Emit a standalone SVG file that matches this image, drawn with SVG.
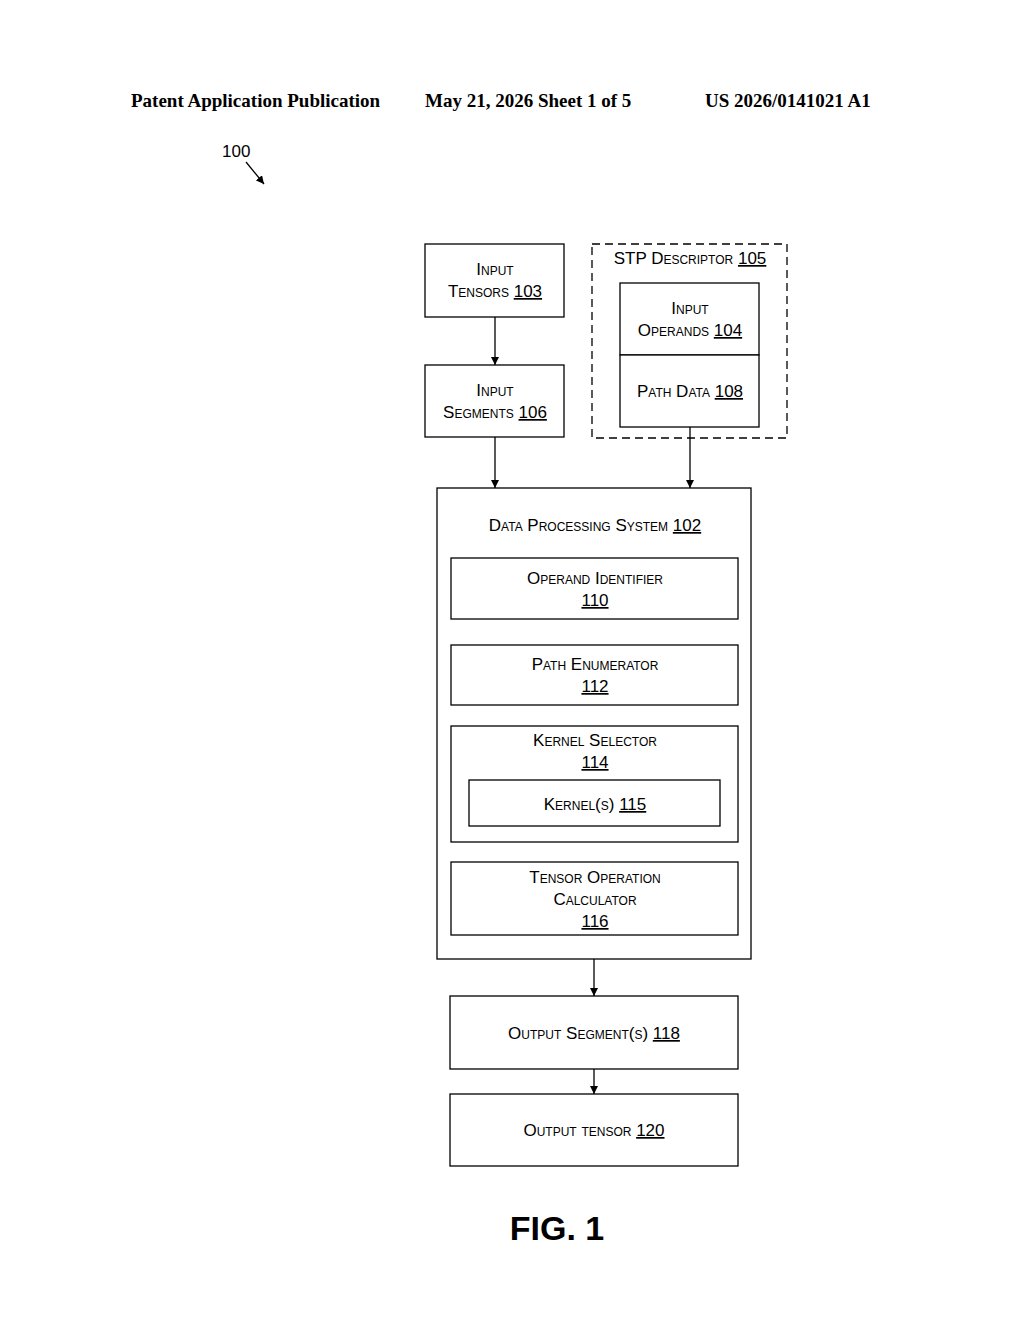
<svg xmlns="http://www.w3.org/2000/svg" width="1024" height="1320" viewBox="0 0 1024 1320">
<style>
.hd{font-family:"Liberation Serif",serif;font-weight:bold;font-size:19px;fill:#000}
.t{font-family:"Liberation Sans",Arial,sans-serif;font-size:17px;font-variant:small-caps;text-anchor:middle;fill:#000}
.b{fill:#fff;stroke:#000;stroke-width:1.3}
.c{stroke:#000;stroke-width:1.3;fill:none}
</style>
<defs><marker id="a" viewBox="0 0 10 10" refX="10" refY="5" markerWidth="8" markerHeight="8" orient="auto" markerUnits="userSpaceOnUse"><path d="M0,0L10,5L0,10z" fill="#000"/></marker></defs>
<rect width="1024" height="1320" fill="#fff"/>
<text class="hd" x="131" y="107">Patent Application Publication</text>
<text class="hd" x="425" y="107">May 21, 2026  Sheet 1 of 5</text>
<text class="hd" x="705" y="107">US 2026/0141021 A1</text>
<text x="222" y="157" font-family="Liberation Sans,sans-serif" font-size="17">100</text>
<g id="connectors">
<line class="c" x1="246" y1="162" x2="264" y2="184" marker-end="url(#a)"/>
<line class="c" x1="495" y1="317" x2="495" y2="365" marker-end="url(#a)"/>
<line class="c" x1="495" y1="437" x2="495" y2="488" marker-end="url(#a)"/>
<line class="c" x1="690" y1="427" x2="690" y2="488" marker-end="url(#a)"/>
<line class="c" x1="594" y1="959" x2="594" y2="996" marker-end="url(#a)"/>
<line class="c" x1="594" y1="1069" x2="594" y2="1094" marker-end="url(#a)"/>
</g>
<g id="n103"><rect class="b" x="425" y="244" width="139" height="73"/><text class="t" x="495" y="275">Input</text><text class="t" x="495" y="297">Tensors <tspan text-decoration="underline">103</tspan></text></g>
<g id="n106"><rect class="b" x="425" y="365" width="139" height="72"/><text class="t" x="495" y="396">Input</text><text class="t" x="495" y="418">Segments <tspan text-decoration="underline">106</tspan></text></g>
<g id="n105"><rect x="592" y="244" width="195" height="194" fill="none" stroke="#000" stroke-width="1.3" stroke-dasharray="8,5"/><text class="t" x="690" y="264">STP Descriptor <tspan text-decoration="underline">105</tspan></text></g>
<g id="n104"><rect class="b" x="620" y="283" width="139" height="72"/><text class="t" x="690" y="314">Input</text><text class="t" x="690" y="336">Operands <tspan text-decoration="underline">104</tspan></text></g>
<g id="n108"><rect class="b" x="620" y="355" width="139" height="72"/><text class="t" x="690" y="397">Path Data <tspan text-decoration="underline">108</tspan></text></g>
<g id="n102"><rect class="b" x="437" y="488" width="314" height="471"/><text class="t" x="595" y="531">Data Processing System <tspan text-decoration="underline">102</tspan></text></g>
<g id="n110"><rect class="b" x="451" y="558" width="287" height="61"/><text class="t" x="595" y="584">Operand Identifier</text><text class="t" x="595" y="606" text-decoration="underline">110</text></g>
<g id="n112"><rect class="b" x="451" y="645" width="287" height="60"/><text class="t" x="595" y="670">Path Enumerator</text><text class="t" x="595" y="692" text-decoration="underline">112</text></g>
<g id="n114"><rect class="b" x="451" y="726" width="287" height="116"/><text class="t" x="595" y="746">Kernel Selector</text><text class="t" x="595" y="768" text-decoration="underline">114</text></g>
<g id="n115"><rect class="b" x="469" y="780" width="251" height="46"/><text class="t" x="595" y="810">Kernel(s) <tspan text-decoration="underline">115</tspan></text></g>
<g id="n116"><rect class="b" x="451" y="862" width="287" height="73"/><text class="t" x="595" y="883">Tensor Operation</text><text class="t" x="595" y="905">Calculator</text><text class="t" x="595" y="927" text-decoration="underline">116</text></g>
<g id="n118"><rect class="b" x="450" y="996" width="288" height="73"/><text class="t" x="594" y="1039">Output Segment(s) <tspan text-decoration="underline">118</tspan></text></g>
<g id="n120"><rect class="b" x="450" y="1094" width="288" height="72"/><text class="t" x="594" y="1136">Output tensor <tspan text-decoration="underline">120</tspan></text></g>
<text x="557" y="1240" font-family="Liberation Sans,Arial,sans-serif" font-weight="bold" font-size="34" text-anchor="middle">FIG. 1</text>
</svg>
